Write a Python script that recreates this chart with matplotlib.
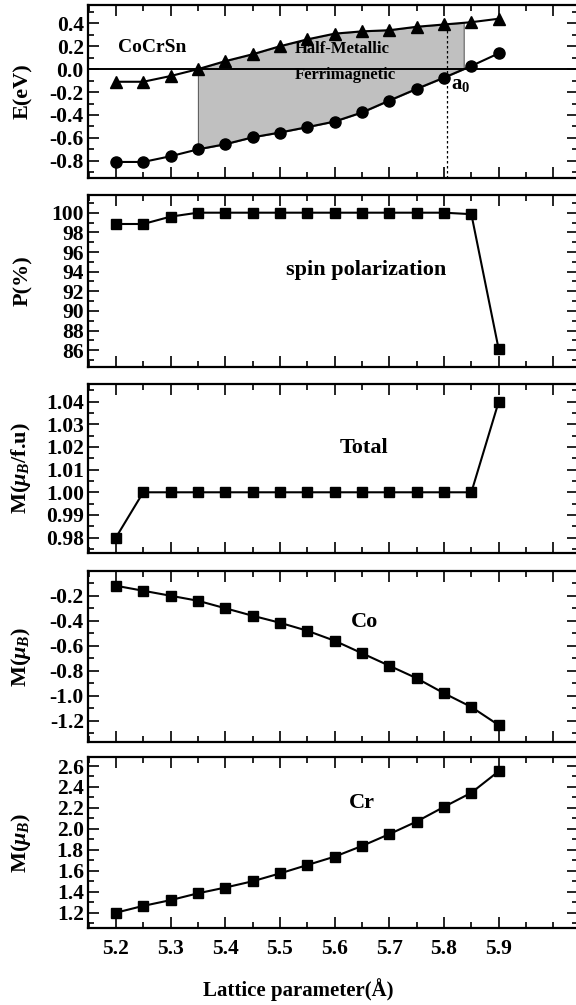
import matplotlib
matplotlib.use("Agg")
import matplotlib.pyplot as plt
import numpy as np
from matplotlib.ticker import MultipleLocator

plt.rcParams['font.family'] = ['Liberation Serif', 'DejaVu Serif']
plt.rcParams['font.weight'] = 'bold'
plt.rcParams['mathtext.fontset'] = 'custom'
plt.rcParams['mathtext.rm'] = 'Liberation Serif:bold'
plt.rcParams['mathtext.it'] = 'Liberation Serif:bold:italic'
plt.rcParams['mathtext.bf'] = 'Liberation Serif:bold'

# lattice parameter (A)
a = [5.20, 5.25, 5.30, 5.35, 5.40, 5.45, 5.50, 5.55, 5.60, 5.65, 5.70, 5.75, 5.80, 5.85, 5.90]

# band edges (eV)
E_tri = [-0.11, -0.11, -0.06, 0.00, 0.07, 0.13, 0.20, 0.26, 0.31, 0.33, 0.34, 0.37, 0.39, 0.41, 0.44]
E_circ = [-0.81, -0.81, -0.76, -0.70, -0.655, -0.595, -0.553, -0.506, -0.457, -0.378, -0.274, -0.172, -0.074, 0.028, 0.138]

# spin polarization (%)
P = [98.85, 98.85, 99.6, 100, 100, 100, 100, 100, 100, 100, 100, 100, 100, 99.85, 86.1]

# total moment (muB/f.u.)
M_tot = [0.98, 1.00, 1.00, 1.00, 1.00, 1.00, 1.00, 1.00, 1.00, 1.00, 1.00, 1.00, 1.00, 1.00, 1.04]

# Co moment
M_co = [-0.12, -0.16, -0.20, -0.24, -0.30, -0.36, -0.416, -0.48, -0.56, -0.66, -0.76, -0.86, -0.98, -1.09, -1.235]

# Cr moment
M_cr = [1.20, 1.265, 1.32, 1.385, 1.44, 1.50, 1.575, 1.655, 1.735, 1.837, 1.95, 2.07, 2.21, 2.345, 2.55]

a0 = 5.805
hm_left = 5.35

W, H = 576, 1005
fig = plt.figure(figsize=(W / 100, H / 100), dpi=100)

left_px, right_px = 88, 578
panels_px = [(5, 178), (195, 367), (384, 553), (571, 742), (757, 928)]
axes = []
for t, b in panels_px:
    ax = fig.add_axes([left_px / W, 1 - b / H, (right_px - left_px) / W, (b - t) / H])
    axes.append(ax)

def style(ax, ymaj, ymin, lim, ylabel):
    ax.set_xlim(5.149, 6.045)
    ax.set_ylim(*lim)
    ax.xaxis.set_major_locator(MultipleLocator(0.1))
    ax.xaxis.set_minor_locator(MultipleLocator(0.05))
    ax.yaxis.set_major_locator(MultipleLocator(ymaj))
    ax.yaxis.set_minor_locator(MultipleLocator(ymin))
    ax.tick_params(which='both', direction='in', top=True, right=True, width=1.2)
    ax.tick_params(which='major', length=8, labelsize=15.5, pad=3)
    ax.tick_params(which='minor', length=4.5)
    for s in ax.spines.values():
        s.set_linewidth(1.6)
    ax.set_ylabel(ylabel, fontsize=16, fontweight='bold')
    ax.yaxis.set_label_coords(-0.112, 0.5)

lkw = dict(color='black', lw=1.5)

# panel 1: band edges
ax = axes[0]
xf = np.linspace(hm_left, 5.836, 200)
top = np.interp(xf, a, E_tri)
bot = np.minimum(np.interp(xf, a, E_circ), 0)
ax.fill_between(xf, bot, top, facecolor='#c0c0c0', edgecolor='#606060', lw=0.8, zorder=1)
ax.axhline(0, color='black', lw=1.4, zorder=2)
ax.plot([a0, a0], [-0.95, np.interp(a0, a, E_tri)], color='black', lw=0.9, ls=(0, (2, 2)), zorder=2)
ax.plot(a, E_tri, marker='^', ms=8, **lkw, zorder=3)
ax.plot(a, E_circ, marker='o', ms=8, **lkw, zorder=3)
style(ax, 0.2, 0.1, (-0.95, 0.56), 'E(eV)')
ax.yaxis.set_major_formatter(plt.FormatStrFormatter('%.1f'))
ax.text(5.204, 0.185, 'CoCrSn', fontsize=14, fontweight='bold', va='center')
ax.text(5.527, 0.18, 'Half-Metallic', fontsize=12, fontweight='bold', va='center')
ax.text(5.527, -0.05, 'Ferrimagnetic', fontsize=12, fontweight='bold', va='center')
ax.text(5.812, -0.13, r'a$_{\mathrm{0}}$', fontsize=15, fontweight='bold', va='center')

# panel 2: spin polarization
ax = axes[1]
ax.plot(a, P, marker='s', ms=6.5, **lkw)
style(ax, 2, 1, (84.3, 101.8), 'P(%)')
ax.text(5.657, 94.2, 'spin polarization', fontsize=16, fontweight='bold', ha='center', va='center')

# panel 3: total moment
ax = axes[2]
ax.plot(a, M_tot, marker='s', ms=6.5, **lkw)
style(ax, 0.01, 0.005, (0.9732, 1.0478), r'M($\mu_B$/f.u)')
ax.yaxis.set_major_formatter(plt.FormatStrFormatter('%.2f'))
ax.text(5.653, 1.0196, 'Total', fontsize=16, fontweight='bold', ha='center', va='center')

# panel 4: Co
ax = axes[3]
ax.plot(a, M_co, marker='s', ms=6.5, **lkw)
style(ax, 0.2, 0.1, (-1.37, -0.002), r'M($\mu_B$)')
ax.set_yticks([-0.2, -0.4, -0.6, -0.8, -1.0, -1.2])
ax.yaxis.set_major_formatter(plt.FormatStrFormatter('%.1f'))
ax.text(5.655, -0.408, 'Co', fontsize=16, fontweight='bold', ha='center', va='center')

# panel 5: Cr
ax = axes[4]
ax.plot(a, M_cr, marker='s', ms=6.5, **lkw)
style(ax, 0.2, 0.1, (1.054, 2.686), r'M($\mu_B$)')
ax.yaxis.set_major_formatter(plt.FormatStrFormatter('%.1f'))
ax.text(5.65, 2.244, 'Cr', fontsize=16, fontweight='bold', ha='center', va='center')

for ax in axes[:-1]:
    ax.tick_params(labelbottom=False)
axes[-1].set_xticks([5.2, 5.3, 5.4, 5.5, 5.6, 5.7, 5.8, 5.9])
axes[-1].tick_params(axis='x', pad=8)
axes[-1].set_xlabel('Lattice parameter(Å)', fontsize=15, fontweight='bold')
axes[-1].xaxis.set_label_coords(0.43, -0.29)

fig.savefig('out.png', dpi=100)
